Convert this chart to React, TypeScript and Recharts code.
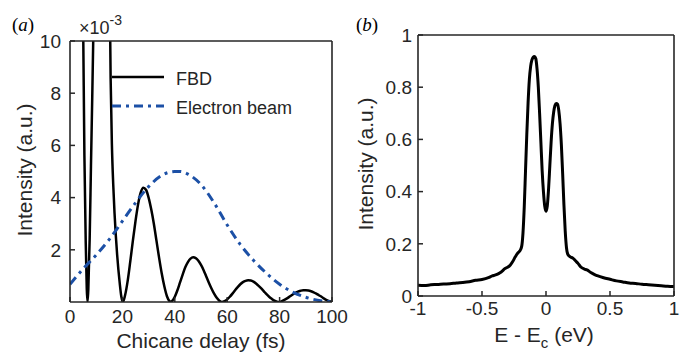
import React from 'react';
import { LineChart, Line, XAxis, YAxis, Legend } from 'recharts';

// ---------- Panel (a) data (intensity in units of 1e-3) ----------
const fbdDelay = [
  0, 2, 4, 4.5, 5, 5.5, 6, 6.4, 6.7, 7, 7.5, 8, 8.5, 9, 9.5, 11, 13, 14, 14.5, 15, 15.5, 16, 16.5, 17, 18, 19, 19.6, 20.2,
  21, 22, 23, 24, 25, 26, 27, 28, 29, 30, 31, 32, 33, 34, 35, 36, 37, 38, 38.5, 39,
  40, 41, 42, 43, 44, 45, 46, 47, 48, 49, 50, 51, 52, 53, 54, 55, 56, 57, 58, 59,
  60, 61, 62, 63, 64, 65, 66, 67, 68, 69, 70, 71, 72, 73, 74, 75, 76, 77, 78, 79, 79.6,
  81, 82, 83, 84, 85, 86, 87, 88, 89, 90, 91, 92, 93, 94, 95, 96, 97, 98, 99, 100,
];
const fbdIntensity = [
  40, 32, 18, 14.5, 10.8, 5.6, 2.3, 0.5, 0, 0.5, 2.4, 5.2, 7.9, 10.8, 14, 30, 38, 28, 20, 13.5, 8.6, 6.0, 4.5, 3.4, 1.8, 0.7, 0.2, 0,
  0.25, 0.8, 1.55, 2.35, 3.1, 3.75, 4.2, 4.38, 4.3, 4.0, 3.55, 3.0, 2.35, 1.7, 1.1, 0.6, 0.22, 0.03, 0, 0.04,
  0.2, 0.45, 0.75, 1.05, 1.33, 1.53, 1.66, 1.71, 1.68, 1.58, 1.42, 1.22, 0.98, 0.74, 0.52, 0.32, 0.16, 0.05, 0, 0.03,
  0.1, 0.2, 0.32, 0.45, 0.57, 0.68, 0.76, 0.81, 0.83, 0.82, 0.78, 0.71, 0.62, 0.52, 0.41, 0.3, 0.2, 0.12, 0.05, 0.01, 0,
  0.04, 0.09, 0.15, 0.22, 0.29, 0.35, 0.4, 0.43, 0.45, 0.45, 0.44, 0.41, 0.37, 0.32, 0.26, 0.2, 0.13, 0.07, 0.03, 0,
];
const beamDelay = [0, 5, 10, 15, 20, 25, 30, 35, 40, 42, 45, 50, 55, 60, 65, 70, 75, 80, 85, 90, 95, 100];
const beamIntensity = [0.68, 1.27, 1.8, 2.4, 3.1, 3.8, 4.42, 4.85, 5.0, 5.0, 4.9, 4.5, 3.8, 2.95, 2.2, 1.6, 1.1, 0.68, 0.38, 0.18, 0.06, 0.0];
const aTicksX = [0, 20, 40, 60, 80, 100];
const aTicksY = [2, 4, 6, 8, 10];
const legendOrder = ['FBD', 'Electron beam'];

// ---------- Panel (b) data ----------
const energy = [
  -1.0, -0.95, -0.9, -0.85, -0.8, -0.75, -0.7, -0.65, -0.6, -0.55, -0.5, -0.45, -0.42, -0.4, -0.37, -0.35, -0.32, -0.3,
  -0.28, -0.26, -0.24, -0.22, -0.205, -0.19, -0.18, -0.17, -0.16, -0.15, -0.14, -0.13, -0.12, -0.11, -0.1, -0.09,
  -0.08, -0.07, -0.06, -0.05, -0.04, -0.03, -0.02, -0.01, 0.0, 0.01, 0.02, 0.03, 0.04, 0.05, 0.06, 0.07, 0.08, 0.09,
  0.1, 0.11, 0.12, 0.13, 0.14, 0.15, 0.16, 0.17, 0.19, 0.21, 0.23, 0.25, 0.27, 0.3, 0.32, 0.35, 0.38, 0.4, 0.45, 0.5,
  0.55, 0.6, 0.65, 0.7, 0.75, 0.8, 0.85, 0.9, 0.95, 1.0,
];
const spectrum = [
  0.041, 0.04, 0.043, 0.044, 0.046, 0.047, 0.05, 0.052, 0.055, 0.06, 0.063, 0.07, 0.077, 0.08, 0.086, 0.092, 0.105, 0.11,
  0.118, 0.132, 0.15, 0.165, 0.172, 0.19, 0.24, 0.34, 0.48, 0.62, 0.74, 0.83, 0.88, 0.905, 0.915, 0.918,
  0.91, 0.87, 0.8, 0.7, 0.59, 0.48, 0.4, 0.345, 0.325, 0.345, 0.41, 0.5, 0.59, 0.66, 0.705, 0.73, 0.738, 0.735,
  0.71, 0.66, 0.58, 0.47, 0.35, 0.25, 0.185, 0.16, 0.15, 0.145, 0.135, 0.125, 0.112, 0.103, 0.1, 0.09, 0.082, 0.078, 0.07, 0.064,
  0.058, 0.054, 0.05, 0.048, 0.045, 0.043, 0.041, 0.039, 0.037, 0.036,
];
const bTicksX = [-1, -0.5, 0, 0.5, 1];
const bTicksY = [0, 0.2, 0.4, 0.6, 0.8, 1];

const fbdData = fbdDelay.map((x, i) => ({ x, y: fbdIntensity[i] }));
const beamData = beamDelay.map((x, i) => ({ x, y: beamIntensity[i] }));
const specData = energy.map((x, i) => ({ x, y: spectrum[i] }));

const FONT = '"Liberation Sans", Arial, Helvetica, sans-serif';
const AX = '#262626';
const BLUE = '#1c50a6';
const axisLine = { stroke: AX, strokeWidth: 1.6 };
const tickLine = { stroke: AX, strokeWidth: 1.5 };
const tickA = { fill: AX, fontSize: 19, fontFamily: FONT };
const tickB = { fill: AX, fontSize: 19, fontFamily: FONT };
const blank = () => '';
const fmtB = (v: number) => String(v);

const LegendBox = (props: any) => {
  const payload = [...(props.payload || [])].sort(
    (a: any, b: any) => legendOrder.indexOf(a.value) - legendOrder.indexOf(b.value)
  );
  return (
    <svg width={200} height={52} style={{ display: 'block' }}>
      {payload.map((p: any, i: number) => {
        const y = 11 + i * 29;
        const dash = p?.payload?.strokeDasharray;
        return (
          <g key={i}>
            <line x1={0} x2={52} y1={y} y2={y} stroke={p.color} strokeWidth={p?.payload?.strokeWidth || 2.5} strokeDasharray={dash} />
            <text x={64} y={y + 8} fontSize={18} fontFamily={FONT} fill={AX}>{p.value}</text>
          </g>
        );
      })}
    </svg>
  );
};

const YLabel = (cx: number, cy: number, size: number) => (props: any) => (
  <text x={cx} y={cy} transform={`rotate(-90 ${cx} ${cy})`} textAnchor="middle" fontSize={size} fontFamily={FONT} fill={AX}>
    Intensity (a.u.)
  </text>
);

export default function App() {
  return (
    <div style={{ position: 'absolute', left: 0, top: 0, width: 680, height: 352, background: '#fff', overflow: 'hidden' }}>
      {/* Panel (a) */}
      <div style={{ position: 'absolute', left: 0, top: 0 }}>
        <LineChart width={360} height={352} margin={{ top: 40, right: 27, bottom: 10, left: 40 }}>
          <XAxis xAxisId="b" type="number" dataKey="x" domain={[0, 100]} ticks={aTicksX} height={40} allowDataOverflow
            axisLine={axisLine} tickLine={tickLine} tickSize={-5} tickMargin={13} tick={tickA} interval={0}
            label={{ content: () => (
              <text x={201} y={348} textAnchor="middle" fontSize={21} fontFamily={FONT} fill={AX}>Chicane delay (fs)</text>
            ) }} />
          <XAxis xAxisId="t" orientation="top" type="number" dataKey="x" domain={[0, 100]} ticks={aTicksX} height={1}
            axisLine={axisLine} tickLine={tickLine} tickSize={-5} tickFormatter={blank} interval={0} />
          <YAxis yAxisId="l" type="number" domain={[0, 10]} ticks={aTicksY} width={30} allowDataOverflow
            axisLine={axisLine} tickLine={tickLine} tickSize={-5} tickMargin={14} tick={tickA} interval={0}
            label={{ content: YLabel(32, 170, 21) }} />
          <YAxis yAxisId="r" orientation="right" type="number" domain={[0, 10]} ticks={aTicksY} width={1}
            axisLine={axisLine} tickLine={tickLine} tickSize={-5} tickFormatter={blank} interval={0} />
          <Line xAxisId="b" yAxisId="l" data={fbdData} dataKey="y" name="FBD" type="monotone" stroke="#000" strokeWidth={2.5}
            dot={false} activeDot={false} isAnimationActive={false} />
          <Line xAxisId="b" yAxisId="l" data={beamData} dataKey="y" name="Electron beam" type="monotone" stroke={BLUE}
            strokeWidth={3} strokeDasharray="9 5 3 5" dot={false} activeDot={false} isAnimationActive={false} />
          <Legend layout="horizontal" verticalAlign="middle" align="center" content={LegendBox}
            wrapperStyle={{ left: 112, top: 66, width: 200, height: 52 }} />
        </LineChart>
      </div>

      {/* Panel (b) */}
      <div style={{ position: 'absolute', left: 340, top: 0 }}>
        <LineChart width={340} height={352} margin={{ top: 34, right: 5, bottom: 10, left: 38 }}>
          <XAxis xAxisId="b" type="number" dataKey="x" domain={[-1, 1]} ticks={bTicksX} height={46} allowDataOverflow
            axisLine={axisLine} tickLine={tickLine} tickSize={-5} tickMargin={11} tick={tickB} tickFormatter={fmtB} interval={0}
            label={{ content: () => (
              <text x={204} y={342} textAnchor="middle" fontSize={21} fontFamily={FONT} fill={AX}>
                E - E<tspan fontSize={15} dy={6}>c</tspan><tspan dy={-6}> (eV)</tspan>
              </text>
            ) }} />
          <XAxis xAxisId="t" orientation="top" type="number" dataKey="x" domain={[-1, 1]} ticks={bTicksX} height={1}
            axisLine={axisLine} tickLine={tickLine} tickSize={-5} tickFormatter={blank} interval={0} />
          <YAxis yAxisId="l" type="number" domain={[0, 1]} ticks={bTicksY} width={40} allowDataOverflow
            axisLine={axisLine} tickLine={tickLine} tickSize={-5} tickMargin={11} tick={tickB} tickFormatter={fmtB} interval={0}
            label={{ content: YLabel(33, 164, 21) }} />
          <YAxis yAxisId="r" orientation="right" type="number" domain={[0, 1]} ticks={bTicksY} width={1}
            axisLine={axisLine} tickLine={tickLine} tickSize={-5} tickFormatter={blank} interval={0} />
          <Line xAxisId="b" yAxisId="l" data={specData} dataKey="y" name="Spectrum" type="monotone" stroke="#000" strokeWidth={3}
            dot={false} activeDot={false} isAnimationActive={false} />
        </LineChart>
      </div>

      {/* Panel letters and exponent */}
      <svg width={680} height={352} style={{ position: 'absolute', left: 0, top: 0, pointerEvents: 'none' }}>
        <text x={12} y={31} fontSize={19} fontFamily='"Liberation Serif", "Times New Roman", serif' fill="#000">
          (<tspan fontStyle="italic">a</tspan>)
        </text>
        <text x={356} y={31} fontSize={19} fontFamily='"Liberation Serif", "Times New Roman", serif' fill="#000">
          (<tspan fontStyle="italic">b</tspan>)
        </text>
        <text x={79} y={34} fontSize={18} fontFamily={FONT} fill={AX}>
          ×10<tspan fontSize={14} dy={-9}>-3</tspan>
        </text>
      </svg>
    </div>
  );
}
